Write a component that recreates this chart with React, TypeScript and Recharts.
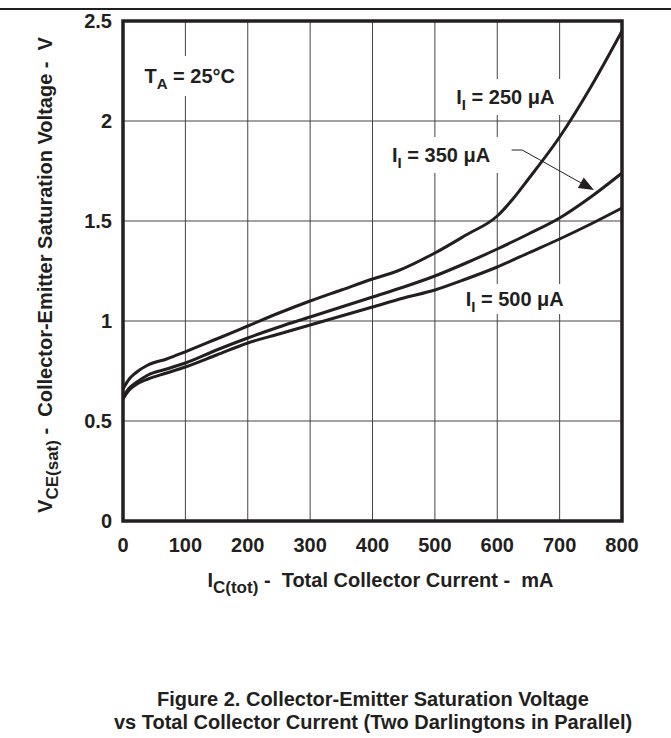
import React from 'react';
import {
  LineChart,
  Line,
  XAxis,
  YAxis,
  CartesianGrid,
  ReferenceArea,
  ReferenceDot,
  ReferenceLine,
} from 'recharts';

// I_I = 250 uA
const current250 = [0, 10, 20, 40, 70, 100, 150, 200, 250, 300, 350, 400, 440, 500, 550, 600, 625, 650, 700, 750, 800];
const volts250 = [0.66, 0.71, 0.74, 0.78, 0.81, 0.846, 0.91, 0.975, 1.04, 1.1, 1.155, 1.21, 1.25, 1.34, 1.43, 1.525, 1.61, 1.71, 1.92, 2.17, 2.45];

// I_I = 350 uA
const current350 = [0, 10, 20, 40, 70, 100, 150, 200, 250, 300, 350, 400, 450, 500, 550, 600, 650, 700, 750, 800];
const volts350 = [0.62, 0.665, 0.69, 0.73, 0.76, 0.79, 0.855, 0.915, 0.97, 1.02, 1.07, 1.12, 1.17, 1.225, 1.29, 1.36, 1.435, 1.515, 1.62, 1.74];

// I_I = 500 uA
const current500 = [0, 10, 20, 40, 70, 100, 150, 200, 250, 300, 350, 400, 450, 500, 550, 600, 650, 700, 750, 800];
const volts500 = [0.61, 0.655, 0.68, 0.71, 0.74, 0.77, 0.83, 0.89, 0.935, 0.98, 1.025, 1.07, 1.115, 1.155, 1.21, 1.27, 1.34, 1.41, 1.485, 1.565];

const xTicks = [0, 100, 200, 300, 400, 500, 600, 700, 800];
const yTicks = [0, 0.5, 1, 1.5, 2, 2.5];

const toRows = (xs: number[], ys: number[]) => xs.map((i, k) => ({ i, v: ys[k] }));

const INK = '#231f20';
const FONT = '"Liberation Sans", Arial, Helvetica, sans-serif';

const tickStyle = { fontSize: 20, fontWeight: 700, fill: INK, fontFamily: FONT };

function makeLabel(main: string, sub: string, rest: string, w: number, h: number) {
  return (props: any) => {
    const { cx, cy } = props;
    return (
      <g>
        <rect x={cx - w / 2} y={cy - h / 2} width={w} height={h} fill='#fff' />
        <text
          x={cx}
          y={cy + 7}
          textAnchor='middle'
          fontSize={20}
          fontWeight={700}
          fontFamily={FONT}
          fill={INK}
        >
          <tspan>{main}</tspan>
          <tspan dy={6} fontSize={15}>{sub}</tspan>
          <tspan dy={-6}>{rest}</tspan>
        </text>
      </g>
    );
  };
}

const Arrowhead = (props: any) => {
  const { cx, cy } = props;
  const a = (29 * Math.PI) / 180;
  const len = 15;
  const half = 6;
  const bx = cx - len * Math.cos(a);
  const by = cy - len * Math.sin(a);
  const px = -Math.sin(a) * half;
  const py = Math.cos(a) * half;
  return (
    <polygon
      points={`${cx},${cy} ${bx + px},${by + py} ${bx - px},${by - py}`}
      fill={INK}
    />
  );
};

const XLabel = (props: any) => {
  const vb = props.viewBox;
  return (
    <text
      x={vb.x + vb.width / 2 + 8}
      y={587}
      textAnchor='middle'
      fontSize={20}
      fontWeight={700}
      fontFamily={FONT}
      fill={INK}
      style={{ whiteSpace: 'pre' }}
    >
      <tspan>I</tspan>
      <tspan dy={6} fontSize={17}>C(tot)</tspan>
      <tspan dy={-6}>{' -  Total Collector Current -  mA'}</tspan>
    </text>
  );
};

const YLabel = () => (
  <text
    x={0}
    y={0}
    transform='translate(52 275) rotate(-90)'
    textAnchor='middle'
    fontSize={20}
    fontWeight={700}
    fontFamily={FONT}
    fill={INK}
    style={{ whiteSpace: 'pre' }}
  >
    <tspan>V</tspan>
    <tspan dy={6} fontSize={17}>CE(sat)</tspan>
    <tspan dy={-6}>{' -  Collector-Emitter Saturation Voltage -  V'}</tspan>
  </text>
);

export default function App() {
  return (
    <div style={{ position: 'absolute', left: 0, top: 0, width: 671, height: 738, background: '#fff' }}>
      <div style={{ position: 'absolute', left: 0, top: 8, width: 671, height: 2, background: INK }} />
      <div style={{ position: 'absolute', left: 0, top: 0 }}>
        <LineChart
          width={660}
          height={640}
          margin={{ top: 21, right: 38, bottom: 79, left: 83 }}
        >
          <CartesianGrid stroke='#444' strokeWidth={1} />
          <XAxis
            dataKey='i'
            type='number'
            domain={[0, 800]}
            ticks={xTicks}
            allowDuplicatedCategory={false}
            axisLine={false}
            tickLine={false}
            tickSize={0}
            tickMargin={17}
            height={40}
            tick={tickStyle}
            label={<XLabel />}
          />
          <YAxis
            type='number'
            domain={[0, 2.5]}
            ticks={yTicks}
            axisLine={false}
            tickLine={false}
            tickSize={0}
            tickMargin={11}
            width={40}
            tick={tickStyle}
            label={<YLabel />}
          />
          <ReferenceDot x={107} y={2.225} shape={makeLabel('T', 'A', ' = 25°C', 112, 40)} ifOverflow='visible' />
          <ReferenceDot x={613} y={2.12} shape={makeLabel('I', 'I', ' = 250 μA', 116, 36)} ifOverflow='visible' />
          <ReferenceDot x={510} y={1.83} shape={makeLabel('I', 'I', ' = 350 μA', 120, 36)} ifOverflow='visible' />
          <ReferenceDot x={628} y={1.11} shape={makeLabel('I', 'I', ' = 500 μA', 112, 30)} ifOverflow='visible' />
          <ReferenceArea
            x1={0}
            x2={800}
            y1={0}
            y2={2.5}
            fill='none'
            fillOpacity={0}
            stroke={INK}
            strokeWidth={3.5}
            ifOverflow='visible'
          />
          <Line
            data={toRows(current250, volts250)}
            dataKey='v'
            type='monotone'
            stroke={INK}
            strokeWidth={3}
            dot={false}
            isAnimationActive={false}
          />
          <Line
            data={toRows(current350, volts350)}
            dataKey='v'
            type='monotone'
            stroke={INK}
            strokeWidth={3}
            dot={false}
            isAnimationActive={false}
          />
          <Line
            data={toRows(current500, volts500)}
            dataKey='v'
            type='monotone'
            stroke={INK}
            strokeWidth={3}
            dot={false}
            isAnimationActive={false}
          />
          <ReferenceLine
            segment={[{ x: 623, y: 1.855 }, { x: 640, y: 1.855 }]}
            stroke={INK}
            strokeWidth={1}
          />
          <ReferenceLine
            segment={[{ x: 640, y: 1.855 }, { x: 750, y: 1.663 }]}
            stroke={INK}
            strokeWidth={1}
          />
          <ReferenceDot x={755} y={1.655} shape={<Arrowhead />} ifOverflow='visible' />
        </LineChart>
      </div>
      <div
        style={{
          position: 'absolute',
          left: 0,
          top: 688,
          width: 746,
          textAlign: 'center',
          fontFamily: FONT,
          fontWeight: 700,
          fontSize: 20,
          lineHeight: '23px',
          color: INK,
        }}
      >
        Figure 2. Collector-Emitter Saturation Voltage
        <br />
        vs Total Collector Current (Two Darlingtons in Parallel)
      </div>
    </div>
  );
}
